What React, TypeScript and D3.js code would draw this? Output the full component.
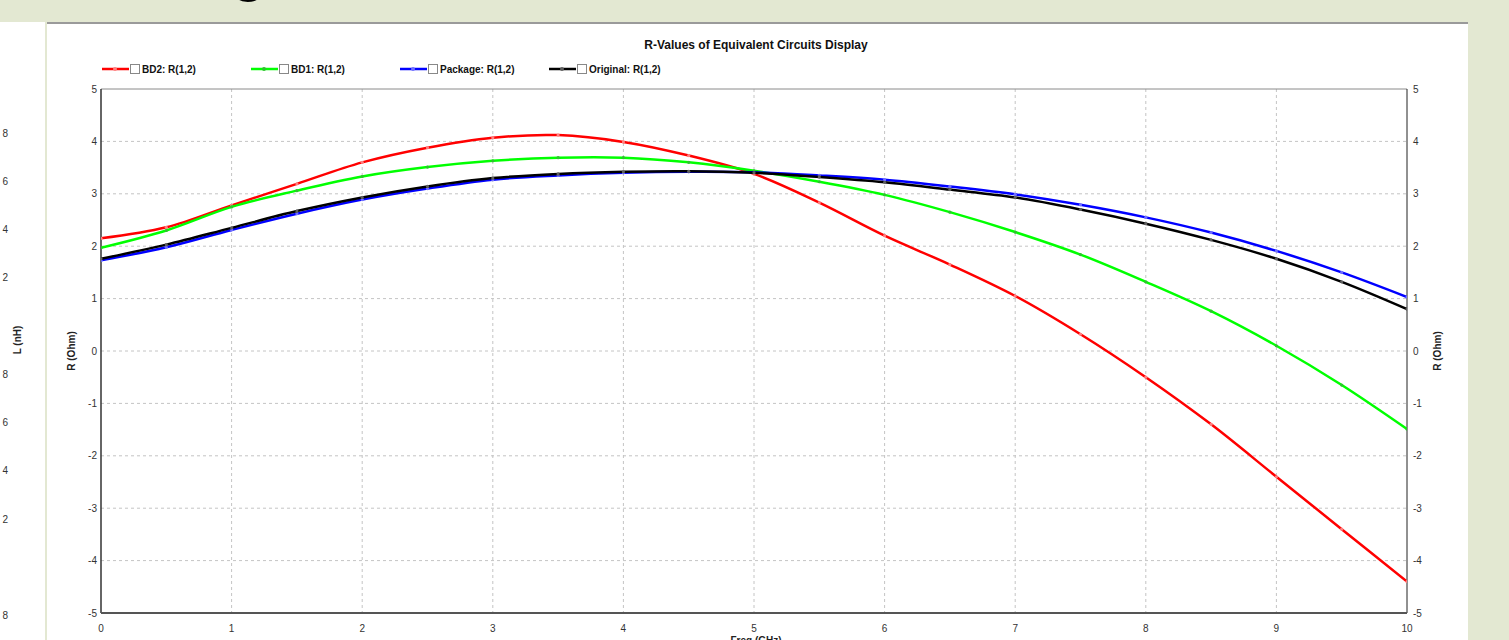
import * as d3 from 'd3';

const W = 1509;
const H = 640;

// frequency grid (GHz) the values were read at
const freqs = [0, 0.5, 1, 1.5, 2, 2.5, 3, 3.5, 4, 4.5, 5, 5.5, 6, 6.5, 7, 7.5, 8, 8.5, 9, 9.5, 10];

const bd2 = [2.15, 2.36, 2.78, 3.19, 3.6, 3.88, 4.07, 4.12, 3.99, 3.73, 3.38, 2.83, 2.2, 1.65, 1.05, 0.32, -0.5, -1.4, -2.4, -3.4, -4.4];
const bd1 = [1.97, 2.3, 2.75, 3.06, 3.33, 3.51, 3.63, 3.69, 3.69, 3.6, 3.44, 3.23, 2.98, 2.65, 2.27, 1.84, 1.32, 0.76, 0.1, -0.65, -1.49];
const pkg = [1.73, 1.98, 2.31, 2.62, 2.89, 3.1, 3.27, 3.35, 3.4, 3.42, 3.41, 3.35, 3.27, 3.14, 2.99, 2.79, 2.55, 2.26, 1.91, 1.5, 1.03];
const orig = [1.76, 2.03, 2.35, 2.67, 2.93, 3.14, 3.3, 3.38, 3.42, 3.43, 3.4, 3.32, 3.22, 3.08, 2.93, 2.7, 2.43, 2.12, 1.76, 1.32, 0.8];

const seriesNames = ['BD2: R(1,2)', 'BD1: R(1,2)', 'Package: R(1,2)', 'Original: R(1,2)'];
const seriesColors = ['#ff0000', '#00ff00', '#0000ff', '#000000'];
const seriesMarks = ['#ff8080', '#30c030', '#7070ff', '#606060'];
const seriesValues = [bd2, bd1, pkg, orig];

const xTicks = [0, 1, 2, 3, 4, 5, 6, 7, 8, 9, 10];
const yTicks = [-5, -4, -3, -2, -1, 0, 1, 2, 3, 4, 5];
// partly hidden L (nH) axis of a neighbouring chart, only the last digit shows
const lTicks = [2.8, 2.6, 2.4, 2.2, 1.8, 1.6, 1.4, 1.2, 0.8];

const FONT = '"Liberation Sans", Arial, sans-serif';
const BEIGE = '#e3e8d2';

export default function App() {
  const left = 101;
  const right = 1407;
  const top = 89;
  const bottom = 613;

  const x = d3.scaleLinear().domain([0, 10]).range([left, right]);
  const y = d3.scaleLinear().domain([-5, 5]).range([bottom, top]);
  const yL = d3.scaleLinear().domain([2.8, 0.8]).range([133, 615.5]);

  const line = d3
    .line<number>()
    .x((_, i) => x(freqs[i]))
    .y(d => y(d))
    .curve(d3.curveCatmullRom.alpha(0.5));

  const legendX = [102, 251, 400, 549];
  const legendY = 69;

  return (
    <svg
      width={W}
      height={H}
      style={{ position: 'absolute', left: 0, top: 0, display: 'block' }}
      fontFamily={FONT}
    >
      <defs>
        <clipPath id="plot-clip">
          <rect x={left} y={top} width={right - left} height={bottom - top} />
        </clipPath>
      </defs>

      {/* slide background */}
      <rect x={0} y={0} width={W} height={H} fill={BEIGE} />
      <rect x={0} y={22} width={45} height={H - 22} fill="#ffffff" />
      <rect x={47} y={22} width={1421} height={H - 22} fill="#ffffff" />
      <line x1={47} x2={1468} y1={23} y2={23} stroke="#9a9a9a" strokeWidth={2} />
      <text x={229} y={-13} fontSize={70} fontFamily={FONT} fill="#000">g</text>

      {/* neighbouring L (nH) axis */}
      {lTicks.map((t, i) => (
        <text key={'l' + i} x={8} y={yL(t)} dy="0.35em" textAnchor="end" fontSize={10} fill="#333">
          {d3.format('.1f')(t).slice(-1)}
        </text>
      ))}
      <text
        transform={`translate(21,340) rotate(-90)`}
        textAnchor="middle"
        fontSize={10}
        fontWeight="bold"
        fill="#222"
      >
        L (nH)
      </text>

      {/* title */}
      <text x={756} y={49} textAnchor="middle" fontSize={12} fontWeight="bold" fill="#111">
        R-Values of Equivalent Circuits Display
      </text>

      {/* legend */}
      {seriesNames.map((name, i) => {
        const lx = legendX[i];
        return (
          <g key={name}>
            <line x1={lx} x2={lx + 27} y1={legendY} y2={legendY} stroke={seriesColors[i]} strokeWidth={2.5} />
            <circle cx={lx + 13} cy={legendY} r={2} fill={seriesMarks[i]} />
            <rect x={lx + 28.5} y={legendY - 4.5} width={9} height={9} fill="#fff" stroke="#888" strokeWidth={1} />
            <text x={lx + 40} y={legendY + 3.5} fontSize={10} fontWeight="bold" fill="#111">
              {name}
            </text>
          </g>
        );
      })}

      {/* grid */}
      {xTicks.slice(1, -1).map(t => (
        <line
          key={'gx' + t}
          x1={x(t)}
          x2={x(t)}
          y1={top}
          y2={bottom}
          stroke="#c4c4c4"
          strokeDasharray="3,3"
        />
      ))}
      {yTicks.slice(1, -1).map(t => (
        <line
          key={'gy' + t}
          x1={left}
          x2={right}
          y1={y(t)}
          y2={y(t)}
          stroke="#c4c4c4"
          strokeDasharray="3,3"
        />
      ))}

      {/* frame */}
      <line x1={left} x2={right} y1={top} y2={top} stroke="#8a8a8a" strokeWidth={1} />
      <line x1={right} x2={right} y1={top} y2={bottom} stroke="#222" strokeWidth={1} />
      <line x1={left} x2={left} y1={top} y2={bottom} stroke="#333" strokeWidth={1.5} />
      <line x1={left} x2={right} y1={bottom} y2={bottom} stroke="#555" strokeWidth={2} />

      {/* axis labels */}
      {yTicks.map(t => (
        <g key={'yl' + t}>
          <text x={97} y={y(t)} dy="0.35em" textAnchor="end" fontSize={10} fill="#333">
            {t}
          </text>
          <text x={1413} y={y(t)} dy="0.35em" textAnchor="start" fontSize={10} fill="#333">
            {t}
          </text>
        </g>
      ))}
      {xTicks.map(t => (
        <text key={'xl' + t} x={x(t)} y={632} textAnchor="middle" fontSize={10} fill="#333">
          {t}
        </text>
      ))}
      <text
        transform={`translate(75,${(top + bottom) / 2}) rotate(-90)`}
        textAnchor="middle"
        fontSize={10}
        fontWeight="bold"
        fill="#222"
      >
        R (Ohm)
      </text>
      <text
        transform={`translate(1441,${(top + bottom) / 2}) rotate(-90)`}
        textAnchor="middle"
        fontSize={10}
        fontWeight="bold"
        fill="#222"
      >
        R (Ohm)
      </text>
      <text x={756} y={644} textAnchor="middle" fontSize={10} fontWeight="bold" fill="#222">
        Freq (GHz)
      </text>

      {/* curves */}
      <g clipPath="url(#plot-clip)">
        {seriesValues.map((vals, i) => (
          <g key={'s' + i}>
            <path d={line(vals) || ''} fill="none" stroke={seriesColors[i]} strokeWidth={2.5} />
            {vals.map((v, j) => (
              <circle key={j} cx={x(freqs[j])} cy={y(v)} r={1.6} fill={seriesMarks[i]} />
            ))}
          </g>
        ))}
      </g>
    </svg>
  );
}
